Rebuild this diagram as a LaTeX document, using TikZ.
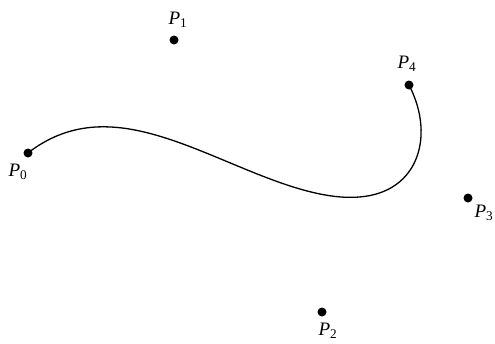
\documentclass[tikz,border=0pt]{standalone}
\usepackage{fontspec}
\setmainfont{Liberation Serif}
\begin{document}
\begin{tikzpicture}[x=1pt,y=-1pt,
  pt/.style={circle,fill=black,inner sep=0pt,minimum size=9pt},
  lab/.style={font=\fontsize{19}{22}\selectfont,inner sep=0pt}]
\useasboundingbox (0,0) rectangle (495,343);
\node[pt] (p0) at (28,153) {};
\node[pt] (p1) at (174,40) {};
\node[pt] (p2) at (322,312) {};
\node[pt] (p3) at (468,198) {};
\node[pt] (p4) at (409,85) {};
\node[lab] (l0) at (18,172) {\textit{P}\textsubscript{0}};
\node[lab] (l1) at (178,20) {\textit{P}\textsubscript{1}};
\node[lab] (l2) at (328,331) {\textit{P}\textsubscript{2}};
\node[lab] (l3) at (484,213) {\textit{P}\textsubscript{3}};
\node[lab] (l4) at (407,64) {\textit{P}\textsubscript{4}};
\draw[line width=1.3pt] plot[domain=0:1,samples=150,variable=\t,smooth]
 ({(1-\t)^4*28 + 4*(1-\t)^3*\t*174 + 6*(1-\t)^2*\t^2*322 + 4*(1-\t)*\t^3*468 + \t^4*409},
  {(1-\t)^4*153 + 4*(1-\t)^3*\t*40 + 6*(1-\t)^2*\t^2*312 + 4*(1-\t)*\t^3*198 + \t^4*85});
\end{tikzpicture}
\end{document}
